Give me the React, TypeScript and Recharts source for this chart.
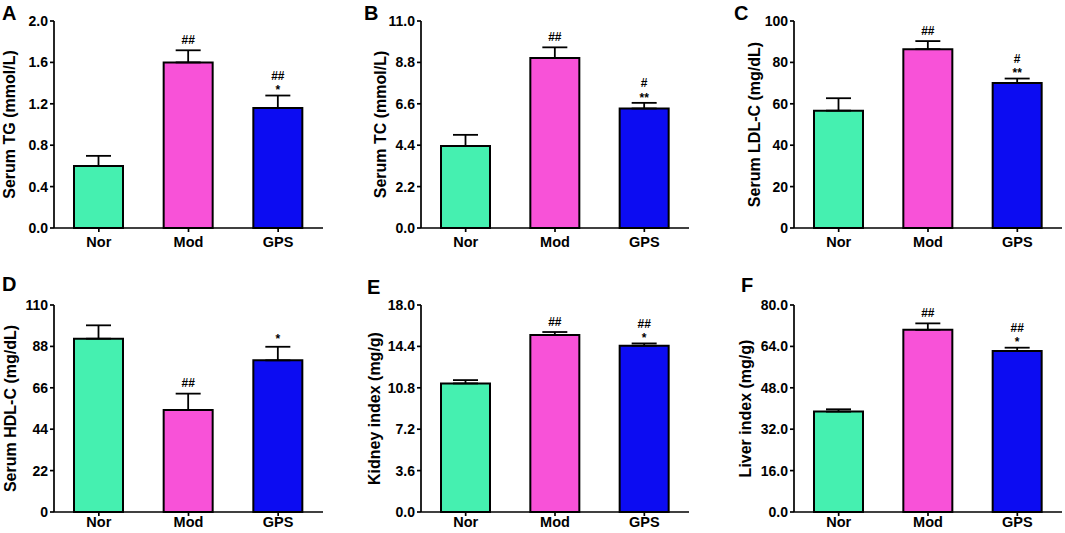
import React from 'react';
import { BarChart, Bar, XAxis, YAxis, ErrorBar, Cell, LabelList } from 'recharts';

const groups = ['Nor', 'Mod', 'GPS'];
const barColors = ['#45F0B0', '#F852D8', '#0C0CF2'];

const tgMeans = [0.6, 1.6, 1.16];
const tgErrors = [0.097, 0.117, 0.12];
const tgMarks = [[], ['##'], ['##', '*']];
const tgTicks = [0, 0.4, 0.8, 1.2, 1.6, 2.0];

const tcMeans = [4.36, 9.03, 6.35];
const tcErrors = [0.59, 0.57, 0.3];
const tcMarks = [[], ['##'], ['#', '**']];
const tcTicks = [0, 2.2, 4.4, 6.6, 8.8, 11.0];

const ldlMeans = [56.7, 86.4, 70.1];
const ldlErrors = [6.0, 3.9, 2.1];
const ldlMarks = [[], ['##'], ['#', '**']];
const ldlTicks = [0, 20, 40, 60, 80, 100];

const hdlMeans = [92.1, 54.2, 80.6];
const hdlErrors = [7.1, 8.7, 7.2];
const hdlMarks = [[], ['##'], ['*']];
const hdlTicks = [0, 22, 44, 66, 88, 110];

const kidneyMeans = [11.18, 15.39, 14.46];
const kidneyErrors = [0.29, 0.26, 0.2];
const kidneyMarks = [[], ['##'], ['##', '*']];
const kidneyTicks = [0, 3.6, 7.2, 10.8, 14.4, 18.0];

const liverMeans = [38.8, 70.4, 62.2];
const liverErrors = [0.9, 2.5, 1.3];
const liverMarks = [[], ['##'], ['##', '*']];
const liverTicks = [0, 16, 32, 48, 64, 80];

const FONT = '"Liberation Sans", Arial, Helvetica, sans-serif';

type PanelCfg = {
  letter: string;
  letterX: number;
  letterY: number;
  label: string;
  labelCx: number;
  means: number[];
  errors: number[];
  marks: string[][];
  ticks: number[];
  decimals: number;
  left: number;
  top: number;
  height: number;
  marginTop: number;
  yAxisWidth: number;
  marginRight: number;
  xAxisHeight: number;
  xTickMargin: number;
};

const makeMarkLabel = (marks: string[][], errors: number[], means: number[]) => (props: any) => {
  const vb = props.viewBox || {};
  const x = props.x ?? vb.x;
  const y = props.y ?? vb.y;
  const width = props.width ?? vb.width;
  const height = props.height ?? vb.height;
  const index = props.index;
  const lines = marks[index];
  if (!lines || !lines.length || x == null) return null;
  const pxPerUnit = Math.abs(height) / means[index];
  const errY = y - errors[index] * pxPerUnit;
  const cx = x + width / 2;
  return (
    <g>
      {lines.map((t, i) => {
        const fromBottom = lines.length - 1 - i;
        const vc = lines.length === 1 ? errY - 10.5 : errY - 8 - fromBottom * 12;
        const base = t.includes('#') ? vc + 4.2 : vc + 6.8;
        return (
          <text key={i} x={cx} y={base} textAnchor="middle" fontSize={12} fontWeight="bold" fontFamily={FONT} fill="#000">
            {t}
          </text>
        );
      })}
    </g>
  );
};

const Panel = ({ cfg }: { cfg: PanelCfg }) => {
  const data = groups.map((g, i) => ({ group: g, value: cfg.means[i], err: [0, cfg.errors[i]] }));
  const max = cfg.ticks[cfg.ticks.length - 1];
  const chartW = 355;
  return (
    <div style={{ position: 'absolute', left: cfg.left, top: cfg.top, width: chartW, height: cfg.height }}>
      <BarChart
        width={chartW}
        height={cfg.height}
        data={data}
        margin={{ top: cfg.marginTop, right: cfg.marginRight, left: 0, bottom: 0 }}
        barSize={49}
      >
        <XAxis
          dataKey="group"
          height={cfg.xAxisHeight}
          interval={0}
          tickSize={4}
          tickMargin={cfg.xTickMargin}
          axisLine={{ stroke: '#000', strokeWidth: 1.7 }}
          tickLine={{ stroke: '#000', strokeWidth: 1.7 }}
          tick={{ fill: '#000', fontSize: 14.5, fontWeight: 'bold', fontFamily: FONT }}
        />
        <YAxis
          width={cfg.yAxisWidth}
          domain={[0, max]}
          ticks={cfg.ticks}
          interval={0}
          tickSize={4}
          tickMargin={2}
          tickFormatter={(v: number) => v.toFixed(cfg.decimals)}
          axisLine={{ stroke: '#000', strokeWidth: 1.7 }}
          tickLine={{ stroke: '#000', strokeWidth: 1.7 }}
          tick={{ fill: '#000', fontSize: 14, fontWeight: 'bold', fontFamily: FONT }}
          label={{
            content: (p: any) => {
              const vb = p.viewBox || {};
              const cy = vb.y + vb.height / 2;
              const cx = cfg.labelCx - cfg.left;
              return (
                <text
                  x={cx}
                  y={cy}
                  transform={`rotate(-90 ${cx} ${cy})`}
                  textAnchor="middle"
                  dominantBaseline="central"
                  fontSize={16}
                  fontWeight="bold"
                  fontFamily={FONT}
                  fill="#000"
                >
                  {cfg.label}
                </text>
              );
            },
          }}
        />
        <Bar dataKey="value" stroke="#000" strokeWidth={2} isAnimationActive={false}>
          {data.map((d, i) => (
            <Cell key={d.group} fill={barColors[i]} />
          ))}
          <ErrorBar dataKey="err" width={12.5} stroke="#000" strokeWidth={1.8} direction="y" isAnimationActive={false} />
          <LabelList dataKey="value" content={makeMarkLabel(cfg.marks, cfg.errors, cfg.means)} />
        </Bar>
      </BarChart>
    </div>
  );
};

const topRow = { top: 0, height: 262, marginTop: 21, xAxisHeight: 34, xTickMargin: 5 };
const botRow = { top: 265, height: 268, marginTop: 40, xAxisHeight: 21, xTickMargin: 1 };
const col1 = { left: 0, yAxisWidth: 54, marginRight: 32 };
const col2 = { left: 355, yAxisWidth: 66, marginRight: 21 };
const col3 = { left: 710, yAxisWidth: 84, marginRight: 3 };

const panels: PanelCfg[] = [
  { letter: 'A', letterX: 2, letterY: 20, label: 'Serum TG (mmol/L)', labelCx: 9, means: tgMeans, errors: tgErrors, marks: tgMarks, ticks: tgTicks, decimals: 1, ...col1, ...topRow },
  { letter: 'B', letterX: 364, letterY: 20, label: 'Serum TC (mmol/L)', labelCx: 380, means: tcMeans, errors: tcErrors, marks: tcMarks, ticks: tcTicks, decimals: 1, ...col2, ...topRow },
  { letter: 'C', letterX: 734, letterY: 20, label: 'Serum LDL-C (mg/dL)', labelCx: 754, means: ldlMeans, errors: ldlErrors, marks: ldlMarks, ticks: ldlTicks, decimals: 0, ...col3, ...topRow },
  { letter: 'D', letterX: 2, letterY: 291, label: 'Serum HDL-C (mg/dL)', labelCx: 10, means: hdlMeans, errors: hdlErrors, marks: hdlMarks, ticks: hdlTicks, decimals: 0, ...col1, ...botRow },
  { letter: 'E', letterX: 367, letterY: 294, label: 'Kidney index (mg/g)', labelCx: 374, means: kidneyMeans, errors: kidneyErrors, marks: kidneyMarks, ticks: kidneyTicks, decimals: 1, ...col2, ...botRow },
  { letter: 'F', letterX: 741, letterY: 292, label: 'Liver index (mg/g)', labelCx: 745, means: liverMeans, errors: liverErrors, marks: liverMarks, ticks: liverTicks, decimals: 1, ...col3, ...botRow },
];

export default function App() {
  return (
    <div style={{ position: 'absolute', left: 0, top: 0, width: 1065, height: 533, background: '#fff', overflow: 'hidden' }}>
      {panels.map((p) => (
        <Panel key={p.letter} cfg={p} />
      ))}
      <svg width={1065} height={533} style={{ position: 'absolute', left: 0, top: 0, pointerEvents: 'none' }}>
        {panels.map((p) => (
          <text key={p.letter} x={p.letterX} y={p.letterY} fontSize={20} fontWeight="bold" fontFamily={FONT} fill="#000">
            {p.letter}
          </text>
        ))}
      </svg>
    </div>
  );
}
